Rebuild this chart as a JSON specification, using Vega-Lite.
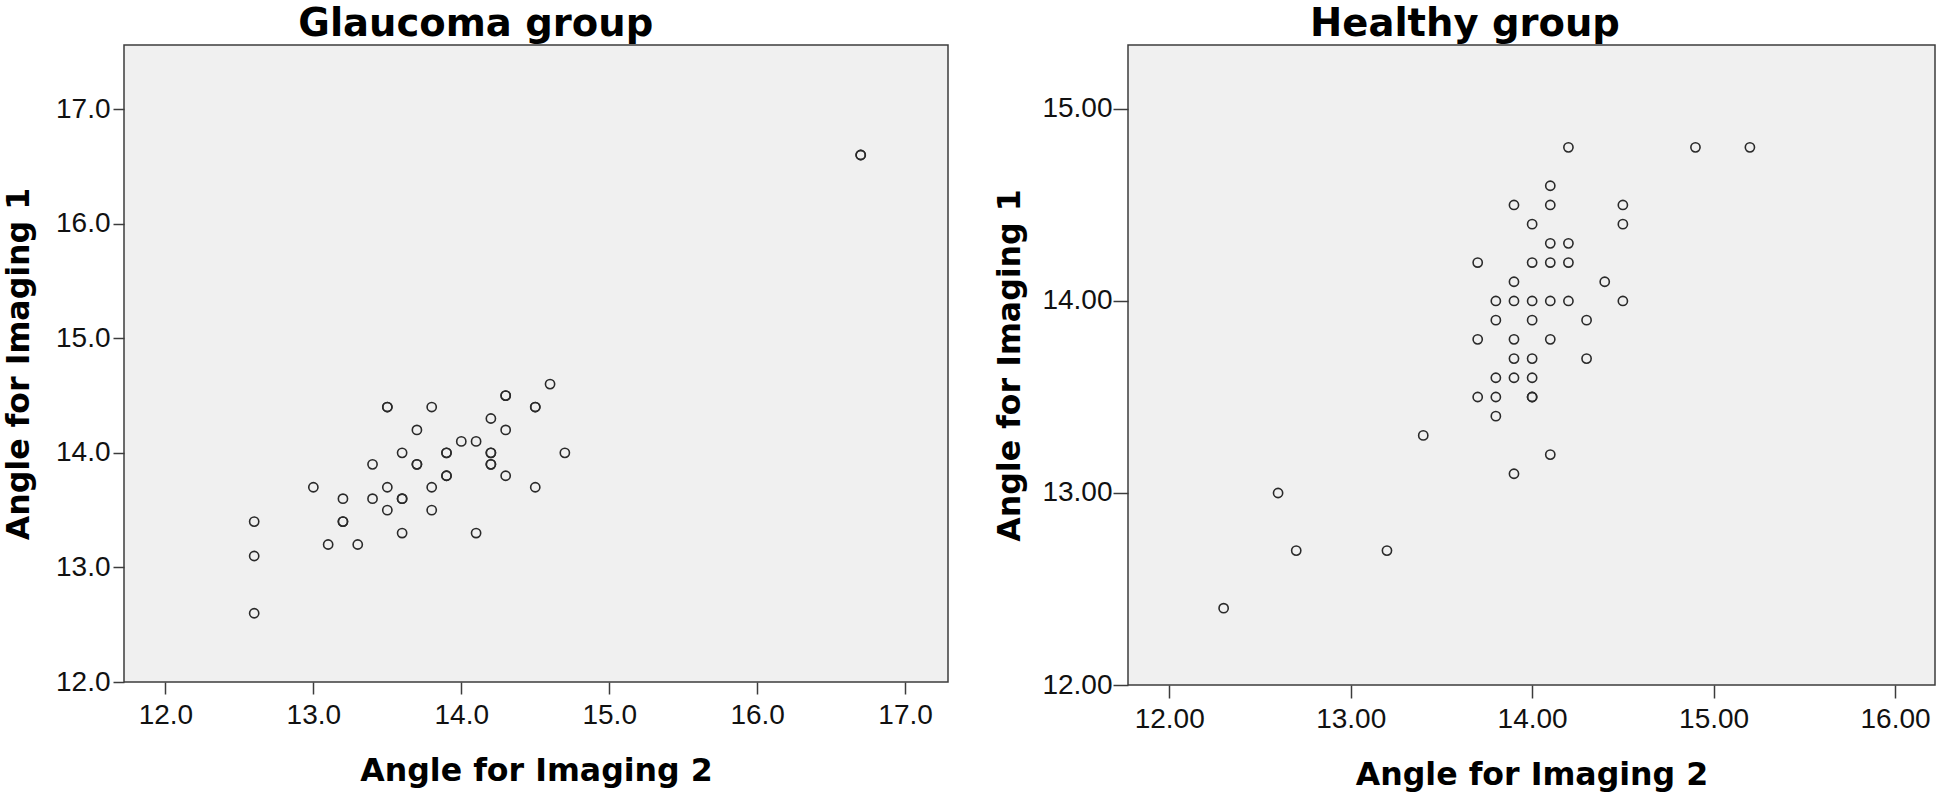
{
  "$schema": "https://vega.github.io/schema/vega-lite/v6.json",
  "padding": {"left": 2, "top": 3, "right": 0, "bottom": 0},
  "background": "white",
  "datasets": {
    "glaucoma": [
      {"img2": 12.6, "img1": 13.4}, {"img2": 12.6, "img1": 13.1}, {"img2": 12.6, "img1": 12.6},
      {"img2": 13.0, "img1": 13.7}, {"img2": 13.2, "img1": 13.6}, {"img2": 13.2, "img1": 13.4},
      {"img2": 13.2, "img1": 13.4}, {"img2": 13.1, "img1": 13.2}, {"img2": 13.3, "img1": 13.2},
      {"img2": 13.4, "img1": 13.9}, {"img2": 13.4, "img1": 13.6}, {"img2": 13.5, "img1": 14.4},
      {"img2": 13.5, "img1": 14.4}, {"img2": 13.5, "img1": 13.7}, {"img2": 13.5, "img1": 13.5},
      {"img2": 13.6, "img1": 14.0}, {"img2": 13.6, "img1": 13.6}, {"img2": 13.6, "img1": 13.6},
      {"img2": 13.6, "img1": 13.3}, {"img2": 13.7, "img1": 14.2}, {"img2": 13.7, "img1": 13.9},
      {"img2": 13.7, "img1": 13.9}, {"img2": 13.8, "img1": 14.4}, {"img2": 13.8, "img1": 13.7},
      {"img2": 13.8, "img1": 13.5}, {"img2": 13.9, "img1": 14.0}, {"img2": 13.9, "img1": 14.0},
      {"img2": 13.9, "img1": 13.8}, {"img2": 13.9, "img1": 13.8}, {"img2": 14.0, "img1": 14.1},
      {"img2": 14.1, "img1": 14.1}, {"img2": 14.1, "img1": 13.3}, {"img2": 14.2, "img1": 14.3},
      {"img2": 14.2, "img1": 14.0}, {"img2": 14.2, "img1": 14.0}, {"img2": 14.2, "img1": 13.9},
      {"img2": 14.2, "img1": 13.9}, {"img2": 14.3, "img1": 14.5}, {"img2": 14.3, "img1": 14.5},
      {"img2": 14.3, "img1": 14.2}, {"img2": 14.3, "img1": 13.8}, {"img2": 14.5, "img1": 14.4},
      {"img2": 14.5, "img1": 14.4}, {"img2": 14.5, "img1": 13.7}, {"img2": 14.6, "img1": 14.6},
      {"img2": 14.7, "img1": 14.0}, {"img2": 16.7, "img1": 16.6}, {"img2": 16.7, "img1": 16.6}
    ],
    "healthy": [
      {"img2": 14.2, "img1": 14.8}, {"img2": 14.9, "img1": 14.8}, {"img2": 15.2, "img1": 14.8},
      {"img2": 14.1, "img1": 14.6},
      {"img2": 13.9, "img1": 14.5}, {"img2": 14.1, "img1": 14.5}, {"img2": 14.5, "img1": 14.5},
      {"img2": 14.0, "img1": 14.4}, {"img2": 14.5, "img1": 14.4},
      {"img2": 14.1, "img1": 14.3}, {"img2": 14.2, "img1": 14.3},
      {"img2": 13.7, "img1": 14.2}, {"img2": 14.0, "img1": 14.2}, {"img2": 14.1, "img1": 14.2}, {"img2": 14.2, "img1": 14.2},
      {"img2": 13.9, "img1": 14.1}, {"img2": 14.4, "img1": 14.1},
      {"img2": 13.8, "img1": 14.0}, {"img2": 13.9, "img1": 14.0}, {"img2": 14.0, "img1": 14.0},
      {"img2": 14.1, "img1": 14.0}, {"img2": 14.2, "img1": 14.0}, {"img2": 14.5, "img1": 14.0},
      {"img2": 13.8, "img1": 13.9}, {"img2": 14.0, "img1": 13.9}, {"img2": 14.3, "img1": 13.9},
      {"img2": 13.7, "img1": 13.8}, {"img2": 13.9, "img1": 13.8}, {"img2": 14.1, "img1": 13.8},
      {"img2": 13.9, "img1": 13.7}, {"img2": 14.0, "img1": 13.7}, {"img2": 14.3, "img1": 13.7},
      {"img2": 13.8, "img1": 13.6}, {"img2": 13.9, "img1": 13.6}, {"img2": 14.0, "img1": 13.6},
      {"img2": 13.7, "img1": 13.5}, {"img2": 13.8, "img1": 13.5}, {"img2": 14.0, "img1": 13.5}, {"img2": 14.0, "img1": 13.5},
      {"img2": 13.8, "img1": 13.4}, {"img2": 13.4, "img1": 13.3}, {"img2": 14.1, "img1": 13.2},
      {"img2": 13.9, "img1": 13.1}, {"img2": 12.6, "img1": 13.0},
      {"img2": 12.7, "img1": 12.7}, {"img2": 13.2, "img1": 12.7}, {"img2": 12.3, "img1": 12.4}
    ]
  },
  "config": {
    "view": {"fill": "#f0f0f0", "stroke": "#3c3c3c", "strokeWidth": 1.5},
    "axis": {
      "grid": false, "domain": false, "tickColor": "#3c3c3c", "tickWidth": 1.5,
      "labelFont": "Liberation Sans", "labelFontSize": 28, "labelColor": "#111",
      "labelFlush": false, "labelOverlap": false, "labelBound": false,
      "titleFont": "DejaVu Sans", "titleFontWeight": "bold", "titleFontSize": 31.6, "titleColor": "#000"
    },
    "title": {"font": "DejaVu Sans", "fontWeight": "bold", "fontSize": 38.5, "color": "#000", "offset": 1, "anchor": "middle", "frame": "bounds"},
    "concat": {"spacing": 45}
  },
  "hconcat": [
    {
      "title": "Glaucoma group",
      "width": 824, "height": 637,
      "data": {"name": "glaucoma"},
      "mark": {"type": "point", "shape": "circle", "filled": false, "size": 85, "stroke": "#2a2a2a", "strokeWidth": 1.6, "opacity": 1},
      "encoding": {
        "x": {"field": "img2", "type": "quantitative",
          "scale": {"domain": [11.72, 17.29], "nice": false, "zero": false},
          "axis": {"title": "Angle for Imaging 2", "values": [12, 13, 14, 15, 16, 17], "format": ".1f", "tickSize": 12, "labelPadding": 7, "titlePadding": 26}},
        "y": {"field": "img1", "type": "quantitative",
          "scale": {"domain": [12, 17.56], "nice": false, "zero": false},
          "axis": {"title": "Angle for Imaging 1", "values": [12, 13, 14, 15, 16, 17], "format": ".1f", "tickSize": 11, "labelPadding": 3, "titlePadding": 20}}
      }
    },
    {
      "title": "Healthy group",
      "width": 807, "height": 640,
      "data": {"name": "healthy"},
      "mark": {"type": "point", "shape": "circle", "filled": false, "size": 85, "stroke": "#2a2a2a", "strokeWidth": 1.6, "opacity": 1},
      "encoding": {
        "x": {"field": "img2", "type": "quantitative",
          "scale": {"domain": [11.773, 16.22], "nice": false, "zero": false},
          "axis": {"title": "Angle for Imaging 2", "values": [12, 13, 14, 15, 16], "format": ".2f", "tickSize": 13, "labelPadding": 7, "titlePadding": 26}},
        "y": {"field": "img1", "type": "quantitative",
          "scale": {"domain": [12, 15.333], "nice": false, "zero": false},
          "axis": {"title": "Angle for Imaging 1", "values": [12, 13, 14, 15], "format": ".2f", "tickSize": 15, "labelPadding": 1, "titlePadding": 15}}
      }
    }
  ]
}
